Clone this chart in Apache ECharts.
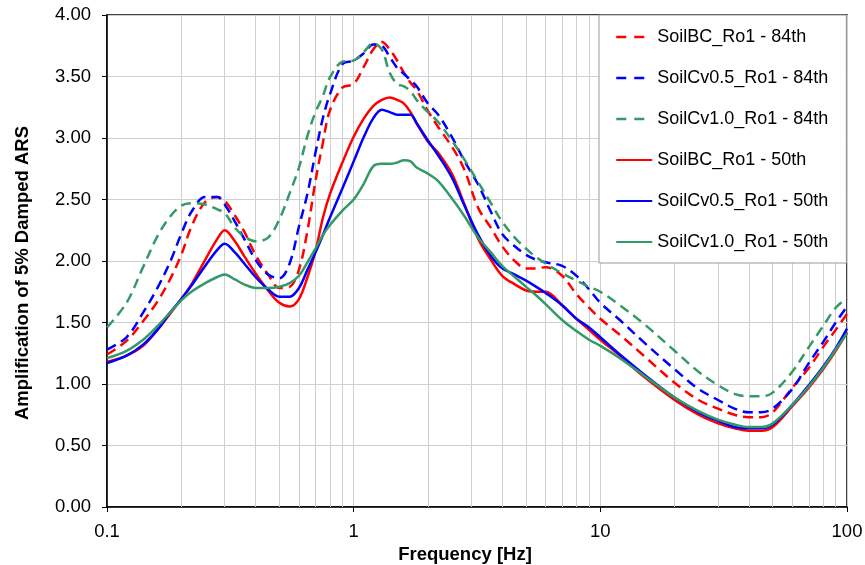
<!DOCTYPE html>
<html>
<head>
<meta charset="utf-8">
<script src="https://cdn.jsdelivr.net/npm/echarts@6/dist/echarts.min.js"></script>
<style>
html,body{margin:0;padding:0;background:#fff;}
#chart{width:865px;height:565px;}
</style>
</head>
<body>
<div id="chart"></div>
<script>
// Frequencies [Hz]
const freqs = [0.1, 0.12, 0.14, 0.16, 0.18, 0.2, 0.22, 0.25, 0.28, 0.3,
  0.33, 0.36, 0.4, 0.45, 0.5, 0.55, 0.6, 0.65, 0.7, 0.75,
  0.8, 0.9, 1.0, 1.1, 1.2, 1.3, 1.4, 1.5, 1.6, 1.7,
  1.8, 2.0, 2.2, 2.5, 2.8, 3.2, 3.6, 4, 4.5, 5,
  5.5, 6, 7, 8, 9, 10, 12, 15, 20, 25,
  30, 35, 40, 45, 50, 60, 70, 80, 90, 100];

// SoilBC_Ro1 - 84th
const bc84 = [1.24, 1.35, 1.51, 1.67, 1.85, 2.05, 2.28, 2.48, 2.52, 2.49,
  2.37, 2.24, 2.05, 1.89, 1.78, 1.79, 1.93, 2.25, 2.65, 2.96,
  3.22, 3.41, 3.44, 3.58, 3.72, 3.78, 3.72, 3.63, 3.53, 3.45,
  3.39, 3.22, 3.09, 2.93, 2.75, 2.43, 2.27, 2.12, 2.00, 1.94,
  1.94, 1.95, 1.88, 1.73, 1.62, 1.53, 1.40, 1.23, 1.01, 0.87,
  0.80, 0.75, 0.73, 0.73, 0.77, 0.97, 1.13, 1.30, 1.44, 1.57];
// SoilCv0.5_Ro1 - 84th
const cv05_84 = [1.28, 1.38, 1.58, 1.78, 1.99, 2.22, 2.40, 2.52, 2.52, 2.46,
  2.32, 2.18, 2.01, 1.89, 1.86, 1.98, 2.28, 2.55, 2.88, 3.16,
  3.35, 3.60, 3.63, 3.69, 3.76, 3.75, 3.66, 3.57, 3.52, 3.47,
  3.42, 3.28, 3.19, 3.01, 2.82, 2.62, 2.40, 2.22, 2.12, 2.05,
  2.01, 1.99, 1.96, 1.88, 1.77, 1.66, 1.52, 1.34, 1.12, 0.96,
  0.87, 0.80, 0.77, 0.77, 0.80, 0.96, 1.17, 1.34, 1.50, 1.63];
// SoilCv1.0_Ro1 - 84th
const cv10_84 = [1.46, 1.66, 1.95, 2.20, 2.36, 2.45, 2.47, 2.46, 2.42, 2.39,
  2.27, 2.20, 2.16, 2.19, 2.34, 2.55, 2.76, 3.02, 3.21, 3.34,
  3.49, 3.62, 3.63, 3.70, 3.77, 3.72, 3.53, 3.44, 3.42, 3.38,
  3.31, 3.21, 3.13, 2.98, 2.83, 2.64, 2.47, 2.32, 2.19, 2.10,
  2.03, 1.98, 1.90, 1.84, 1.79, 1.75, 1.64, 1.49, 1.27, 1.10,
  0.99, 0.92, 0.90, 0.90, 0.93, 1.10, 1.30, 1.47, 1.62, 1.70];
// SoilBC_Ro1 - 50th
const bc50 = [1.18, 1.23, 1.31, 1.44, 1.57, 1.69, 1.81, 2.01, 2.18, 2.25,
  2.16, 2.04, 1.90, 1.76, 1.66, 1.63, 1.69, 1.87, 2.08, 2.35,
  2.54, 2.80, 3.01, 3.16, 3.26, 3.31, 3.33, 3.31, 3.28, 3.21,
  3.12, 2.97, 2.88, 2.71, 2.47, 2.18, 2.01, 1.88, 1.81, 1.76,
  1.75, 1.75, 1.64, 1.53, 1.44, 1.36, 1.23, 1.06, 0.87, 0.75,
  0.68, 0.64, 0.62, 0.62, 0.65, 0.82, 0.97, 1.12, 1.27, 1.42];
// SoilCv0.5_Ro1 - 50th
const cv05_50 = [1.17, 1.23, 1.32, 1.44, 1.58, 1.69, 1.80, 1.96, 2.09, 2.14,
  2.07, 1.98, 1.87, 1.77, 1.71, 1.71, 1.78, 1.93, 2.07, 2.21,
  2.35, 2.59, 2.81, 3.01, 3.16, 3.23, 3.21, 3.19, 3.19, 3.19,
  3.12, 2.98, 2.86, 2.68, 2.46, 2.21, 2.04, 1.94, 1.89, 1.84,
  1.79, 1.74, 1.64, 1.53, 1.46, 1.38, 1.24, 1.08, 0.89, 0.77,
  0.70, 0.65, 0.64, 0.64, 0.67, 0.83, 0.99, 1.14, 1.29, 1.45];
// SoilCv1.0_Ro1 - 50th
const cv10_50 = [1.21, 1.27, 1.36, 1.47, 1.58, 1.68, 1.75, 1.82, 1.87, 1.89,
  1.85, 1.81, 1.78, 1.78, 1.79, 1.82, 1.88, 1.99, 2.10, 2.21,
  2.29, 2.41, 2.50, 2.63, 2.77, 2.79, 2.79, 2.80, 2.82, 2.81,
  2.76, 2.71, 2.65, 2.51, 2.37, 2.19, 2.07, 1.96, 1.87, 1.79,
  1.72, 1.65, 1.52, 1.43, 1.36, 1.31, 1.21, 1.07, 0.89, 0.78,
  0.71, 0.67, 0.65, 0.65, 0.68, 0.83, 0.98, 1.13, 1.28, 1.41];

const seriesNames = ['SoilBC_Ro1 - 84th', 'SoilCv0.5_Ro1 - 84th', 'SoilCv1.0_Ro1 - 84th',
  'SoilBC_Ro1 - 50th', 'SoilCv0.5_Ro1 - 50th', 'SoilCv1.0_Ro1 - 50th'];
const seriesValues = [bc84, cv05_84, cv10_84, bc50, cv05_50, cv10_50];
const seriesColors = ['#FF0000', '#0000FF', '#339966', '#FF0000', '#0000FF', '#339966'];
const seriesDashed = [true, true, true, false, false, false];

// Minor log grid lines
const minorGrid = [0.2,0.3,0.4,0.5,0.6,0.7,0.8,0.9,2,3,4,5,6,7,8,9,20,30,40,50,60,70,80,90];

const FONT = 'Liberation Sans, Arial, sans-serif';
const FS = 18;

const series = [{
  type: 'line', name: 'grid', data: [], z: 1, silent: true,
  markLine: {
    silent: true, symbol: 'none', label: {show: false}, z: 1,
    lineStyle: {color: '#cfcfcf', width: 1, type: 'solid'},
    data: minorGrid.map(v => ({xAxis: v}))
  }
}];
seriesNames.forEach((n, i) => {
  series.push({
    type: 'line', name: n, z: 3,
    data: freqs.map((f, j) => [f, seriesValues[i][j]]),
    smooth: 0.35, symbol: 'none', showSymbol: false,
    lineStyle: {color: seriesColors[i], width: 2.5, type: seriesDashed[i] ? [10, 6] : 'solid'},
    itemStyle: {color: seriesColors[i]}
  });
});

const legendData = seriesNames.map((n, i) => seriesDashed[i]
  ? {name: n, lineStyle: {type: [10, 8], width: 2.5, color: seriesColors[i]}}
  : {name: n});

const chart = echarts.init(document.getElementById('chart'), null, {renderer: 'canvas'});
chart.setOption({
  animation: false,
  backgroundColor: '#fff',
  textStyle: {fontFamily: FONT},
  grid: {left: 107, right: 18, top: 15, bottom: 58, show: true, borderColor: '#000', borderWidth: 1.5,
    backgroundColor: 'transparent', containLabel: false, outerBoundsMode: 'none'},
  legend: {
    data: legendData, orient: 'vertical', left: 599, top: 15, z: 20,
    backgroundColor: '#fff', borderColor: '#999', borderWidth: 1,
    padding: [13, 18, 12, 16], itemGap: 23, itemWidth: 36, itemHeight: 16,
    itemStyle: {opacity: 0},
    textStyle: {fontFamily: FONT, fontSize: FS, color: '#000'}
  },
  xAxis: {
    type: 'log', logBase: 10, min: 0.1, max: 100,
    name: 'Frequency [Hz]', nameLocation: 'middle', nameGap: 34,
    nameTextStyle: {fontFamily: FONT, fontSize: 18.5, fontWeight: 'bold', color: '#000', padding: [0, 24, 0, 0]},
    axisLine: {show: true, lineStyle: {color: '#000', width: 1.5}},
    axisTick: {show: true, length: 5, lineStyle: {color: '#000'}},
    axisLabel: {fontFamily: FONT, fontSize: 18.5, color: '#000', margin: 15,
      formatter: v => { const r = Math.round(v * 1000) / 1000; return String(r); }},
    splitLine: {show: true, lineStyle: {color: '#cfcfcf', width: 1}}
  },
  yAxis: {
    type: 'value', min: 0, max: 4, interval: 0.5,
    name: 'Amplification of 5% Damped ARS', nameLocation: 'middle', nameGap: 75,
    nameTextStyle: {fontFamily: FONT, fontSize: 18.5, fontWeight: 'bold', color: '#000', padding: [0, 24, 0, 0]},
    axisLine: {show: true, lineStyle: {color: '#000', width: 1.5}},
    axisTick: {show: true, length: 5, lineStyle: {color: '#000'}},
    axisLabel: {fontFamily: FONT, fontSize: 18.5, color: '#000', margin: 16, formatter: v => v.toFixed(2)},
    splitLine: {show: true, lineStyle: {color: '#cfcfcf', width: 1}}
  },
  series: series
});
</script>
</body>
</html>
